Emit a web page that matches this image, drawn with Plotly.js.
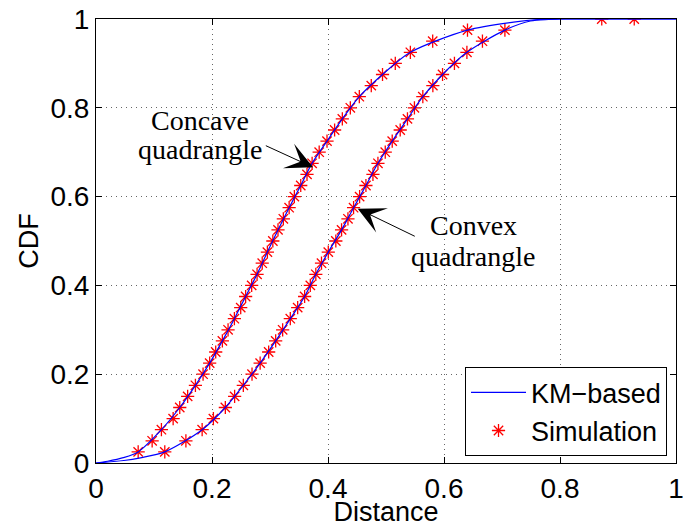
<!DOCTYPE html>
<html>
<head>
<meta charset="utf-8">
<script src="https://cdn.plot.ly/plotly-3.0.1.min.js"></script>
<style>html,body{margin:0;padding:0;background:#fff;}#chart{width:683px;height:527px;}</style>
</head>
<body>
<div id="chart"></div>
<script>
// CDF levels of the simulated samples
const simLevels = [0.025,0.05,0.075,0.1,0.125,0.15,0.175,0.2,0.225,0.25,0.275,0.3,0.325,0.35,0.375,0.4,0.425,0.45,0.475,0.5,0.525,0.55,0.575,0.6,0.625,0.65,0.675,0.7,0.725,0.75,0.775,0.8,0.825,0.85,0.875,0.9,0.925,0.95,0.975,1];
// Simulation: concave quadrangle distances
const simConcaveX = [0.0727,0.0968,0.1128,0.133,0.1444,0.158,0.1714,0.1846,0.196,0.2064,0.2179,0.2277,0.2386,0.2495,0.258,0.2684,0.2777,0.2866,0.2955,0.3049,0.3138,0.323,0.333,0.342,0.353,0.3638,0.3726,0.3848,0.3983,0.4114,0.4247,0.4385,0.454,0.4746,0.494,0.516,0.542,0.5805,0.6405,0.872];
// Simulation: convex quadrangle distances
const simConvexX = [0.1186,0.155,0.183,0.2024,0.223,0.239,0.254,0.269,0.283,0.2977,0.3098,0.3218,0.335,0.3477,0.3597,0.3695,0.379,0.3888,0.4005,0.4135,0.4234,0.4344,0.4441,0.4545,0.4654,0.4775,0.4861,0.4987,0.5107,0.5245,0.537,0.549,0.5635,0.5808,0.5975,0.618,0.6395,0.6663,0.705,0.928];
// KM-based analytical curves
const kmConcaveX = [0,0.02,0.047,0.0727,0.1128,0.1444,0.1714,0.196,0.2179,0.2386,0.258,0.2777,0.2955,0.3138,0.333,0.353,0.3726,0.3983,0.4247,0.454,0.494,0.542,0.6405,0.72,0.766,0.80,1.0];
const kmConcaveY = [0,0.004,0.012,0.025,0.075,0.125,0.175,0.225,0.275,0.325,0.375,0.425,0.475,0.525,0.575,0.625,0.675,0.725,0.775,0.825,0.875,0.925,0.975,0.993,0.999,1,1];
const kmConvexX = [0,0.048,0.0767,0.1186,0.183,0.223,0.254,0.283,0.3098,0.335,0.3597,0.379,0.4005,0.4234,0.4441,0.4654,0.4861,0.5107,0.537,0.5635,0.5975,0.6395,0.705,0.749,0.78,0.81,1.0];
const kmConvexY = [0,0.0056,0.0117,0.025,0.075,0.125,0.175,0.225,0.275,0.325,0.375,0.425,0.475,0.525,0.575,0.625,0.675,0.725,0.775,0.825,0.875,0.925,0.975,0.9955,0.999,1,1];
const tickVals = [0,0.2,0.4,0.6,0.8,1];
const tickText = ['0','0.2','0.4','0.6','0.8','1'];

const markerStyle = {symbol:'asterisk-open', size:11, color:'#ff0000', line:{color:'#ff0000', width:1.3}};
const traces = [
  {x: simConcaveX, y: simLevels, type:'scatter', mode:'markers', name:'Simulation', legendgroup:'sim', legendrank:2, marker: markerStyle, showlegend:true},
  {x: simConvexX, y: simLevels, type:'scatter', mode:'markers', name:'Simulation', legendgroup:'sim', legendrank:2, marker: markerStyle, showlegend:false},
  {x: kmConcaveX, y: kmConcaveY, type:'scatter', mode:'lines', name:'KM\u2212based', legendgroup:'km', legendrank:1, line:{color:'#0000ff', width:1.2, shape:'spline', smoothing:0.8}, showlegend:true},
  {x: kmConvexX, y: kmConvexY, type:'scatter', mode:'lines', name:'KM\u2212based', legendgroup:'km', legendrank:1, line:{color:'#0000ff', width:1.2, shape:'spline', smoothing:0.8}, showlegend:false}
];

const sans = 'Liberation Sans, Arial, Helvetica, sans-serif';
const axisCommon = {
  range:[0,1], tickvals: tickVals, ticktext: tickText, showline:true, mirror:'ticks', linecolor:'#000', linewidth:1,
  ticks:'inside', ticklen:6, tickcolor:'#000', tickwidth:1, showgrid:true, gridcolor:'#666', griddash:'1px,4px', gridwidth:1,
  zeroline:false, ticklabeloverflow:'allow', tickfont:{family:sans, size:28, color:'#000'}
};
const serif = {family:'Liberation Serif, Times New Roman, serif', size:28, color:'#000'};
const layout = {
  width:683, height:527, margin:{l:95.5, r:7, t:18.7, b:63.5}, paper_bgcolor:'#fff', plot_bgcolor:'#fff',
  xaxis: Object.assign({}, axisCommon, {title:{text:'Distance', font:{family:sans, size:27, color:'#000'}, standoff:2}}),
  yaxis: Object.assign({}, axisCommon, {title:{text:'CDF', font:{family:sans, size:27, color:'#000'}, standoff:4}}),
  showlegend:true,
  legend:{x:0.9845, xanchor:'right', y:0.015, yanchor:'bottom', bgcolor:'#fff', bordercolor:'#000', borderwidth:1,
          itemwidth:55, font:{family:sans, size:27, color:'#000'}, tracegroupgap:0},
  annotations:[
    {x:0.18, y:0.772, xref:'x', yref:'y', text:'Concave', showarrow:false, font:serif},
    {x:0.18, y:0.705, xref:'x', yref:'y', text:'quadrangle', showarrow:false, font:serif},
    {x:0.650, y:0.536, xref:'x', yref:'y', text:'Convex', showarrow:false, font:serif},
    {x:0.650, y:0.464, xref:'x', yref:'y', text:'quadrangle', showarrow:false, font:serif},
    {x:0.3742, y:0.666, xref:'x', yref:'y', text:'', showarrow:true, ax:-48.7, ay:-22.3, arrowhead:3, arrowsize:4.5, arrowwidth:1, arrowcolor:'#000', standoff:0, startstandoff:0},
    {x:0.4513, y:0.5728, xref:'x', yref:'y', text:'', showarrow:true, ax:58.5, ay:28.3, arrowhead:3, arrowsize:4.5, arrowwidth:1, arrowcolor:'#000', standoff:0, startstandoff:0}
  ]
};
Plotly.newPlot('chart', traces, layout, {displayModeBar:false, staticPlot:true});
</script>
</body>
</html>
